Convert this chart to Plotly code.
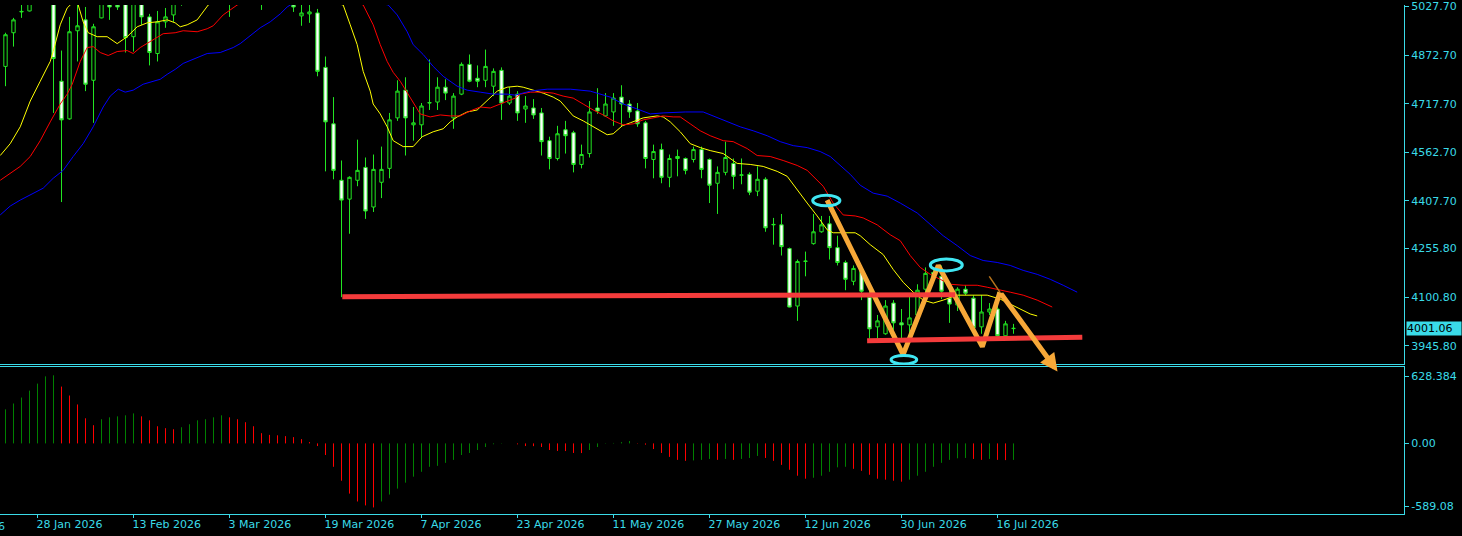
import plotly.graph_objects as go

# ---------------- data ----------------
bars = list(range(127))
opens = [4836.6, 4944.0, 5010.4, 5013.5, 5060.0, 5095.0, 5075.0, 4789.3, 4669.2, 4950.4,
         4985.1, 4792.4, 4991.4, 5034.0, 5033.0, 5040.0, 4931.4, 5036.0, 4994.6, 4877.7,
         4978.8, 5000.9, 5040, 5080, 5110, 5140, 5120, 5150, 5100, 5060,
         5090, 5120, 5100, 5070, 5095, 5065, 5040, 4997.8, 5004.1, 5007.2,
         4833.5, 4653.4, 4473.4, 4413.3, 4473.4, 4514.4, 4388.1, 4467.0, 4511.3, 4672.4,
         4760.8, 4650.3, 4650.3, 4719.8, 4722.9, 4770.3, 4672.4, 4748.2, 4843.0, 4798.7,
         4792.4, 4773.5, 4824.0, 4719.8, 4748.2, 4700.8, 4704.0, 4688.2, 4599.7, 4542.9,
         4634.5, 4625.0, 4523.9, 4558.6, 4704.0, 4678.7, 4691.3, 4738.7, 4716.6, 4694.5,
         4656.6, 4539.7, 4571.3, 4482.8, 4549.2, 4542.9, 4539.7, 4571.3, 4539.7, 4463.9,
         4498.6, 4527.1, 4489.2, 4492.3, 4438.6, 4476.5, 4331.2, 4331.2, 4255.4, 4072.2,
         4214.3, 4271.2, 4309.1, 4334.4, 4258.5, 4211.2, 4151.1, 4189.0, 4100.6, 4005.8,
         3983.7, 4081.6, 4018.5, 4012.1, 4043.7, 4125.9, 4179.6, 4167.0, 4097.4, 4075.3,
         4125.9, 4097.4, 4005.8, 4053.2, 4062.7, 3977.4, 4000.2]
highs = [4944.0, 4991.4, 5050.0, 5075.0, 5110.0, 5130.0, 5090.0, 4887.2, 4994.6, 5035.0,
         5026.2, 4972.5, 5060.0, 5050.0, 5045.0, 5055.0, 5050.0, 5045.0, 5004.1, 5013.5,
         5023.0, 5055.0, 5090, 5120, 5150, 5170, 5160, 5190, 5130, 5110,
         5140, 5150, 5130, 5110, 5120, 5090, 5060, 5040, 5045, 5019.9,
         4868.2, 4738.7, 4536.5, 4486.0, 4602.9, 4546.0, 4555.5, 4580.8, 4688.2, 4792.4,
         4801.9, 4707.1, 4719.8, 4858.8, 4801.9, 4795.6, 4751.4, 4849.3, 4874.6, 4839.8,
         4890.3, 4830.3, 4833.5, 4770.3, 4757.7, 4741.9, 4732.4, 4704.0, 4612.4, 4647.1,
         4662.9, 4631.3, 4587.1, 4726.1, 4767.1, 4751.4, 4751.4, 4776.6, 4729.2, 4719.8,
         4662.9, 4587.1, 4590.2, 4555.5, 4571.3, 4546.0, 4580.8, 4580.8, 4542.9, 4517.6,
         4596.6, 4542.9, 4542.9, 4498.6, 4517.6, 4482.8, 4353.3, 4365.9, 4258.5, 4220.6,
         4245.9, 4365.9, 4359.6, 4359.6, 4296.5, 4217.5, 4201.7, 4201.7, 4119.5, 4043.7,
         4091.1, 4091.1, 4062.7, 4106.9, 4141.7, 4195.4, 4189.0, 4201.7, 4138.5, 4132.2,
         4138.5, 4106.9, 4106.9, 4081.6, 4116.4, 4024.8, 4015.3]
lows = [4773.5, 4899.8, 4991.4, 5012.0, 5045.0, 5060.0, 4688.2, 4403.9, 4667.0, 4852.4,
        4757.7, 4656.6, 4990.0, 4985.1, 5016.7, 4880.9, 4884.0, 4969.3, 4839.8, 4852.4,
        4959.8, 4978.8, 5030, 5060, 5090, 5100, 5095, 5120, 4994.6, 5040,
        5070, 5080, 5016.7, 5045, 5050, 5040, 5010.4, 4966.2, 4975.6, 4805.1,
        4501.8, 4476.5, 4100.6, 4302.8, 4454.4, 4350.2, 4372.3, 4416.5, 4479.7, 4662.9,
        4552.3, 4599.7, 4609.2, 4697.6, 4697.6, 4729.2, 4637.6, 4745.0, 4786.1, 4770.3,
        4770.3, 4741.9, 4666.1, 4713.4, 4662.9, 4656.6, 4669.2, 4552.3, 4508.1, 4536.5,
        4558.6, 4498.6, 4511.3, 4546.0, 4685.0, 4675.5, 4647.1, 4644.0, 4672.4, 4644.0,
        4511.3, 4479.7, 4463.9, 4451.2, 4486.0, 4492.3, 4530.2, 4479.7, 4400.7, 4366.0,
        4489.2, 4444.9, 4460.7, 4426.0, 4422.8, 4309.1, 4268.0, 4233.3, 4068.0, 4024.8,
        4167.0, 4268.0, 4306.0, 4220.6, 4201.7, 4122.7, 4138.5, 4091.1, 3967.9, 3967.9,
        3980.6, 3996.4, 3967.9, 3980.6, 4031.1, 4116.4, 4148.0, 4094.3, 4018.5, 4056.4,
        4106.9, 3986.9, 3983.7, 4043.7, 3974.2, 3974.2, 3983.7]
closes = [4937.7, 4985.1, 5012.0, 5060.0, 5095.0, 5080.0, 4861.9, 4666.1, 4947.2, 4966.2,
          4779.8, 4963.0, 5045.0, 5026.2, 5026.2, 4928.3, 5038.0, 4994.6, 4880.9, 4978.8,
          4994.6, 5040.0, 5080, 5110, 5140, 5120, 5150, 5170, 5060, 5090,
          5120, 5100, 5070, 5095, 5065, 5075, 5026.2, 5007.2, 5010.4, 4820.8,
          4659.7, 4505.0, 4410.2, 4482.8, 4505.0, 4375.4, 4508.1, 4508.1, 4666.1, 4757.7,
          4672.4, 4656.6, 4710.3, 4721.0, 4770.3, 4751.4, 4741.9, 4843.0, 4789.3, 4789.3,
          4836.6, 4820.8, 4719.8, 4741.9, 4688.2, 4710.3, 4681.8, 4596.6, 4542.9, 4621.8,
          4615.5, 4523.9, 4555.5, 4691.3, 4694.5, 4716.6, 4735.5, 4716.6, 4691.3, 4653.4,
          4542.9, 4565.0, 4482.8, 4542.9, 4542.9, 4505.0, 4571.3, 4508.1, 4457.6, 4498.6,
          4546.0, 4486.0, 4490.5, 4435.5, 4476.5, 4321.7, 4332.5, 4261.7, 4069.0, 4214.3,
          4215.5, 4309.1, 4331.2, 4258.5, 4211.2, 4157.5, 4192.2, 4119.5, 3999.5, 4024.8,
          4072.2, 4018.5, 4012.1, 4034.3, 4122.7, 4176.4, 4163.8, 4119.5, 4078.5, 4125.9,
          4113.2, 4002.7, 4053.2, 4062.7, 3977.4, 4015.3, 4001.06]

# Alligator-style shifted moving averages: (bar, price)
lips = [(-0.66, 4552.3), (0.59, 4590.2), (1.84, 4643.9), (3.09, 4726.1), (4.34, 4789.3),
        (5.59, 4852.4), (5.96, 4884.0), (6.84, 4969.3), (7.71, 5023.0), (8.09, 5032.5),
        (8.59, 5045), (9.09, 5032.5), (9.71, 4978.8), (10.34, 4944.0), (11.46, 4931.4),
        (12.71, 4931.4), (13.96, 4909.3), (15.21, 4931.4), (16.46, 4963.0), (17.71, 4975.6),
        (18.96, 4978.8), (20.21, 4985.1), (21.21, 4975.6), (21.84, 4963.0), (22.71, 4969.3),
        (23.96, 4985.1), (24.71, 5010.4), (25.34, 5032.5), (28, 5075), (32, 5085),
        (36, 5070), (40, 5045), (42.21, 5032.5), (43.09, 4969.3), (43.96, 4906.1),
        (44.71, 4820.8), (45.59, 4757.7), (45.96, 4716.6), (46.84, 4685.0), (47.71, 4643.9),
        (48.46, 4599.7), (49.71, 4580.8), (50.96, 4580.8), (52.09, 4612.4), (53.46, 4628.1),
        (54.71, 4637.6), (55.59, 4659.7), (56.46, 4675.5), (57.71, 4691.3), (58.96, 4697.6),
        (60.21, 4726.1), (61.46, 4757.7), (62.71, 4770.3), (63.96, 4773.5), (64.71, 4770.3),
        (65.96, 4760.8), (67.21, 4751.4), (68.46, 4738.7), (69.34, 4726.1), (70.21, 4700.8),
        (70.96, 4678.7), (72.21, 4662.9), (73.46, 4643.9), (75.21, 4618.7), (75.96, 4621.8),
        (77.09, 4647.1), (78.09, 4656.6), (79.71, 4672.4), (81.46, 4678.7), (82.21, 4675.5),
        (83.09, 4659.7), (83.96, 4637.6), (84.34, 4628.1), (85.59, 4590.2), (86.84, 4577.6),
        (88.09, 4568.1), (89.71, 4558.6), (91.46, 4527.1), (93.09, 4523.9), (94.71, 4517.6),
        (96.46, 4501.8), (97.71, 4486.0), (98.96, 4441.8), (100.21, 4400.7), (101.46, 4359.6),
        (102.71, 4315.4), (103.46, 4305.9), (104.71, 4305.9), (106.21, 4305.9), (106.84, 4296.5),
        (108.09, 4268.0), (109.71, 4236.4), (110.96, 4189.0), (112.21, 4148.0), (113.46, 4116.4),
        (114.71, 4091.1), (115.96, 4081.6), (117.21, 4091.1), (118.96, 4106.9), (120.96, 4106.9),
        (122.71, 4106.9), (124.34, 4094.3), (125.59, 4078.5), (126.84, 4062.7), (128.09, 4046.9),
        (128.96, 4040.6)]
teeth = [(-0.66, 4473.4), (0.59, 4495.5), (1.84, 4517.6), (3.09, 4549.2), (4.34, 4599.7),
         (5.59, 4659.7), (6.84, 4716.6), (7.71, 4748.2), (8.34, 4779.8), (9.34, 4852.4),
         (10.21, 4896.7), (10.96, 4899.8), (11.84, 4880.9), (12.84, 4871.4), (13.96, 4884.0),
         (15.21, 4887.2), (15.96, 4877.7), (16.84, 4896.7), (17.84, 4912.5), (18.96, 4928.3),
         (19.71, 4940.9), (21.21, 4944.0), (22.21, 4950.4), (23.96, 4947.2), (25.21, 4956.7),
         (25.96, 4966.2), (27.21, 5000.9), (28.96, 5032.5), (32, 5060), (36, 5075),
         (40, 5070), (43, 5050), (44.71, 5032.5), (45.96, 4969.3), (46.84, 4906.1),
         (47.71, 4852.4), (48.46, 4817.7), (49.34, 4789.3), (50.59, 4738.7), (51.84, 4685.0),
         (53.09, 4675.5), (54.34, 4681.8), (55.59, 4678.7), (56.84, 4678.7), (58.09, 4694.5),
         (59.34, 4707.1), (60.59, 4704.0), (61.84, 4716.6), (62.71, 4726.1), (63.71, 4735.5),
         (64.34, 4748.2), (65.59, 4754.5), (67.21, 4754.5), (68.46, 4751.4), (69.71, 4741.9),
         (70.96, 4735.5), (72.21, 4716.6), (73.46, 4697.6), (74.71, 4681.8), (75.96, 4662.9),
         (77.21, 4650.3), (78.46, 4653.4), (79.71, 4666.1), (80.96, 4672.4), (82.21, 4678.7),
         (83.46, 4675.5), (84.34, 4675.5), (85.59, 4653.4), (86.84, 4631.3), (88.09, 4615.5),
         (89.71, 4599.7), (90.96, 4596.6), (92.71, 4574.5), (93.96, 4552.3), (95.59, 4549.2),
         (97.21, 4536.5), (98.96, 4520.7), (100.21, 4505.0), (101.46, 4473.4), (102.21, 4454.4),
         (103.46, 4400.7), (104.71, 4362.8), (106.21, 4359.6), (107.21, 4353.3), (108.96, 4331.2),
         (110.59, 4299.6), (111.84, 4280.7), (113.09, 4233.3), (114.34, 4195.4), (115.59, 4173.3),
         (116.84, 4157.5), (118.09, 4141.7), (119.71, 4138.5), (121.46, 4138.5), (122.71, 4132.2),
         (123.96, 4125.9), (125.59, 4116.4), (127.21, 4106.9), (128.96, 4091.1), (130.84, 4069.0)]
jaw = [(-0.66, 4362.8), (0.59, 4391.2), (1.84, 4410.2), (3.09, 4426.0), (4.71, 4448.1),
       (5.96, 4479.7), (7.21, 4505.0), (8.46, 4549.2), (9.71, 4590.2), (10.96, 4643.9),
       (12.21, 4707.1), (13.09, 4741.9), (14.09, 4764.0), (14.96, 4754.5), (15.96, 4760.8),
       (17.21, 4779.8), (18.46, 4789.3), (19.34, 4795.6), (20.21, 4811.4), (21.21, 4827.2),
       (22.21, 4846.1), (23.46, 4858.8), (25.21, 4877.7), (26.84, 4880.9), (28.46, 4896.7),
       (29.34, 4909.3), (30.59, 4934.6), (31.84, 4959.8), (33.09, 4978.8), (34.34, 5004.1),
       (35.21, 5026.2), (35.59, 5032.5), (38, 5050), (41, 5060), (44, 5055), (46, 5042),
       (47.84, 5032.5), (48.96, 5000.9), (50.21, 4947.2), (50.96, 4906.1), (52.21, 4874.6),
       (53.46, 4836.6), (54.71, 4805.1), (56.46, 4773.5), (57.71, 4760.8), (59.34, 4754.5),
       (60.96, 4748.2), (62.71, 4748.2), (63.71, 4745.0), (65.59, 4757.7), (67.71, 4764.0),
       (70.59, 4764.0), (73.09, 4757.7), (75.59, 4738.7), (77.21, 4716.6), (78.96, 4700.8),
       (80.59, 4685.0), (82.21, 4688.2), (84.96, 4691.3), (87.21, 4691.3), (88.46, 4678.7),
       (90.21, 4659.7), (91.84, 4643.9), (93.46, 4631.3), (95.21, 4615.5), (96.84, 4596.6),
       (98.46, 4583.9), (100.21, 4577.6), (101.84, 4565.0), (103.09, 4549.2), (104.34, 4520.7),
       (105.59, 4492.3), (106.84, 4457.6), (108.46, 4432.3), (110.21, 4422.8), (111.84, 4400.7),
       (113.96, 4369.1), (115.59, 4331.2), (117.21, 4296.5), (118.96, 4264.9), (120.59, 4233.3),
       (122.21, 4217.5), (123.96, 4211.2), (125.59, 4201.7), (127.21, 4185.9), (128.96, 4173.3),
       (130.59, 4157.5), (132.21, 4138.5), (133.96, 4116.4)]

# oscillator histogram (one value per bar)
osc = [320, 375, 431, 496, 562, 630, 640, 534, 450, 366,
       236, 171, 227, 245, 254, 264, 282, 254, 217, 161,
       143, 133, 152, 180, 217, 227, 245, 264, 245, 227,
       199, 161, 96, 80, 76, 68, 59, 40, 12, -25,
       -109, -220, -351, -472, -546, -583, -602, -546, -481, -425,
       -369, -313, -267, -220, -211, -183, -155, -109, -90, -62,
       -34, -8, -3, -1, -9, -25, -26, -34, -62, -71,
       -72, -90, -91, -62, -34, 3, 4, 12, 22, 3,
       -12, -53, -90, -127, -155, -164, -160, -155, -146, -155,
       -146, -155, -146, -137, -118, -137, -164, -202, -248, -304,
       -332, -323, -304, -267, -225, -220, -239, -258, -295, -332,
       -341, -351, -360, -341, -304, -267, -220, -183, -155, -140,
       -137, -146, -155, -146, -155, -157, -155]

tick_bars = [4, 16, 28, 40, 52, 64, 76, 88, 100, 112, 124]
tick_dates = ["28 Jan 2026", "13 Feb 2026", "3 Mar 2026", "19 Mar 2026", "7 Apr 2026",
              "23 Apr 2026", "11 May 2026", "27 May 2026", "12 Jun 2026", "30 Jun 2026",
              "16 Jul 2026"]
first_date_label = "12 Jan 2026"
price_ticks = [5027.70, 4872.70, 4717.70, 4562.70, 4407.70, 4255.80, 4100.80, 3945.80]
price_tick_text = ["5027.70", "4872.70", "4717.70", "4562.70", "4407.70", "4255.80",
                   "4100.80", "3945.80"]
osc_ticks = [628.384, 0.0, -589.08]
osc_tick_text = ["628.384", "0.00", "-589.08"]
last_price = 4001.06

# drawn objects (bar, price)
zigzag = [(102.7, 4410.2), (112.2, 3917.4), (116.6, 4201.7), (122.1, 3942.6), (124.3, 4116.4)]
arrow_tip = (131.5, 3863.7)
thin_stroke = [(122.97, 4167.0), (124.3, 4116.4)]
support_lines = [((42.1, 4102.2), (118.7, 4108.5)), ((107.7, 3961.6), (134.6, 3972.6))]
ellipses = [((100.9, 104.3), (4391.8, 4425.3)), ((115.6, 119.6), (4184.3, 4222.2)),
            ((110.7, 113.9), (3887.3, 3914.8))]

# ---------------- styling ----------------
CYAN = "#3adbe8"
LIME = "#22e622"
FONT = "DejaVu Sans"
X_RANGE = [-0.6875, 174.8125]

fig = go.Figure()
fig.add_trace(go.Candlestick(
    x=bars, open=opens, high=highs, low=lows, close=closes,
    increasing=dict(line=dict(color=LIME, width=1), fillcolor="#000000"),
    decreasing=dict(line=dict(color=LIME, width=1), fillcolor="#ffffff"),
    whiskerwidth=0, xaxis="x", yaxis="y", hoverinfo="skip"))

for pts, col in [(lips, "#ffff00"), (teeth, "#ff0000"), (jaw, "#0000ff")]:
    fig.add_trace(go.Scatter(x=[p[0] for p in pts], y=[p[1] for p in pts], mode="lines",
                             line=dict(color=col, width=1), xaxis="x", yaxis="y",
                             hoverinfo="skip"))

# histogram drawn as thin vertical strokes, green when rising, red when falling
for want_up, col in [(True, "#008000"), (False, "#ff0000")]:
    hx, hy = [], []
    for i, v in enumerate(osc):
        up = (i == 0) or (v > osc[i - 1])
        if up == want_up:
            hx += [bars[i], bars[i], None]
            hy += [0, v, None]
    fig.add_trace(go.Scatter(x=hx, y=hy, mode="lines", line=dict(color=col, width=1),
                             xaxis="x2", yaxis="y2", hoverinfo="skip"))

fig.add_trace(go.Scatter(x=[p[0] for p in zigzag], y=[p[1] for p in zigzag], mode="lines",
                         line=dict(color="#f7a838", width=5), xaxis="x", yaxis="y",
                         hoverinfo="skip"))
fig.add_trace(go.Scatter(x=[p[0] for p in thin_stroke], y=[p[1] for p in thin_stroke],
                         mode="lines", line=dict(color="#b8741c", width=1.5),
                         xaxis="x", yaxis="y", hoverinfo="skip"))

shapes = []
for (a, b) in support_lines:
    shapes.append(dict(type="line", xref="x", yref="y", x0=a[0], y0=a[1], x1=b[0], y1=b[1],
                       line=dict(color="#f43b3b", width=5)))
for (xs, ys) in ellipses:
    shapes.append(dict(type="circle", xref="x", yref="y", x0=xs[0], x1=xs[1], y0=ys[0], y1=ys[1],
                       line=dict(color="#40e6f2", width=3)))

annotations = [
    dict(x=arrow_tip[0], y=arrow_tip[1], xref="x", yref="y", ax=zigzag[-1][0], ay=zigzag[-1][1],
         axref="x", ayref="y", text="", showarrow=True, arrowhead=2, arrowsize=0.7,
         arrowwidth=5, arrowcolor="#f7a838"),
    dict(x=1, xref="paper", xanchor="left", xshift=2, y=last_price, yref="y", text="4001.06",
         showarrow=False, font=dict(family=FONT, size=11, color="#000000"), bgcolor=CYAN,
         width=54, height=13, align="left", borderpad=0),
    dict(x=(5.5 - 8 * 8 - 5) / 1404, xref="paper", xanchor="left", y=0, yref="paper",
         yanchor="top", yshift=-4, text=first_date_label, showarrow=False,
         font=dict(family=FONT, size=11, color=CYAN)),
]

axis_common = dict(showgrid=False, zeroline=False, fixedrange=True)
fig.update_layout(
    width=1462, height=536, margin=dict(l=0, r=58, t=0, b=22),
    paper_bgcolor="#000000", plot_bgcolor="#000000", showlegend=False,
    boxgap=0.4,
    xaxis=dict(domain=[0, 1], anchor="y", range=X_RANGE, showline=True,
               linecolor=CYAN, linewidth=1, showticklabels=False, ticks="",
               rangeslider=dict(visible=False), **axis_common),
    xaxis2=dict(domain=[0, 1], anchor="y2", matches="x", range=X_RANGE, showline=True,
                mirror=True, linecolor=CYAN, linewidth=1, ticks="outside", ticklen=3,
                tickcolor=CYAN, tickvals=tick_bars, ticktext=tick_dates,
                ticklabelposition="outside right", ticklabelshift=-2,
                tickfont=dict(family=FONT, size=11, color=CYAN), **axis_common),
    yaxis=dict(domain=[1 - 363 / 514, 1], anchor="x", side="right", range=[3885.8, 5032.5],
               showline=True, linecolor=CYAN, linewidth=1, ticks="outside", ticklen=4,
               tickcolor=CYAN, tickvals=price_ticks, ticktext=price_tick_text,
               ticklabeloverflow="allow",
               tickfont=dict(family=FONT, size=11, color=CYAN), **axis_common),
    yaxis2=dict(domain=[0, (514 - 365.5) / 514], anchor="x2", side="right",
                range=[-663.8, 718.7], showline=True, linecolor=CYAN, linewidth=1,
                ticks="outside", ticklen=4, tickcolor=CYAN, tickvals=osc_ticks,
                ticktext=osc_tick_text, ticklabeloverflow="allow",
                tickfont=dict(family=FONT, size=11, color=CYAN), **axis_common),
    shapes=shapes, annotations=annotations,
)

fig.write_html("out.html", config={"displayModeBar": False},
               post_script="document.body.style.margin='0px';"
                           "document.body.style.background='#000000';")
